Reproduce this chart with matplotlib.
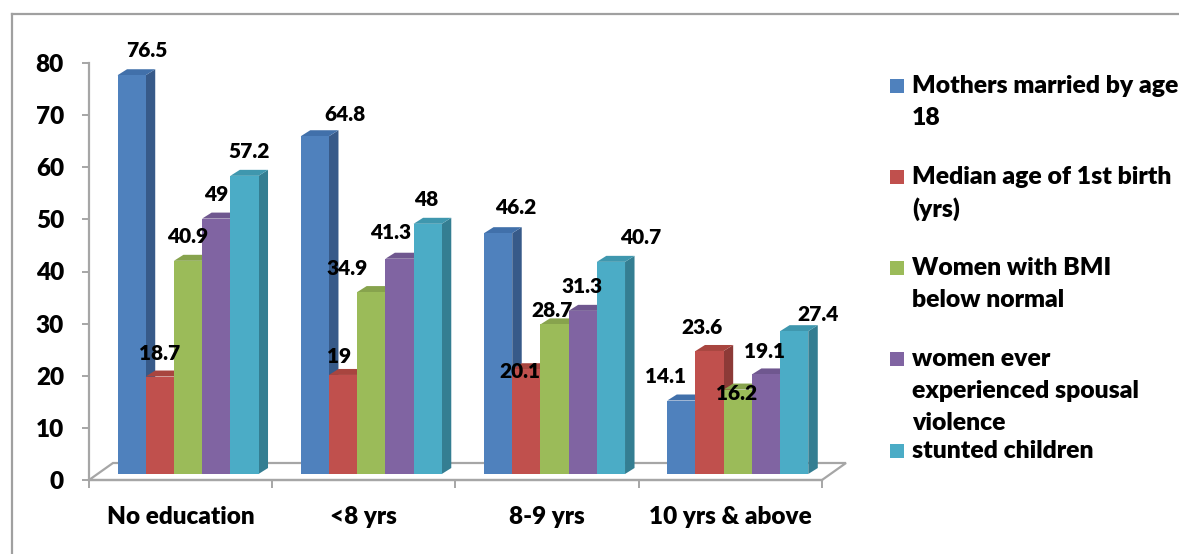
import numpy as np
import matplotlib
matplotlib.use("Agg")
import matplotlib.pyplot as plt
from matplotlib.patches import Polygon, Rectangle
from matplotlib.transforms import ScaledTranslation
from matplotlib.lines import Line2D

# ---------------- data ----------------
categories = ["No education", "<8 yrs", "8-9 yrs", "10 yrs & above"]
series_names = [
    "Mothers married by age\n18",
    "Median age of 1st birth\n(yrs)",
    "Women with BMI\nbelow normal",
    "women ever\nexperienced spousal\nviolence",
    "stunted children",
]
mothers_married_by_18 = [76.5, 64.8, 46.2, 14.1]
median_age_first_birth = [18.7, 19, 20.1, 23.6]
women_bmi_below_normal = [40.9, 34.9, 28.7, 16.2]
women_spousal_violence = [49, 41.3, 31.3, 19.1]
stunted_children = [57.2, 48, 40.7, 27.4]
y_ticks = [0, 10, 20, 30, 40, 50, 60, 70, 80]

series_values = [mothers_married_by_18, median_age_first_birth,
                 women_bmi_below_normal, women_spousal_violence, stunted_children]

# ---------------- styles ----------------
front_colors = ["#4F81BD", "#C0504D", "#9BBB59", "#8064A2", "#4BACC6"]
side_colors = ["#375A89", "#8C3A37", "#718A40", "#5D4977", "#347E92"]
top_colors = ["#4170AA", "#A8453F", "#87A34D", "#6F578F", "#3F97AE"]
# label offsets (pixels, x right / y down) relative to bar front-top centre
label_offsets = [
    [(15, -25), (30, -22), (18, -26), (-16, -24)],
    [(0, -23), (-4, -18), (-6, 2), (-8, -23)],
    [(0, -24), (-24, -24), (-2, -14), (-1, 4)],
    [(0, -24), (-9, -26), (-1, -24), (-1, -23)],
    [(5, -24), (-1, -24), (30, -24), (24, -17)],
]
FONT = ["Lato", "DejaVu Sans"]
WEIGHT = "heavy"
GREY = "#A6A6A6"
TICK_FS = 17.5
LEG_FS = 17.8
LBL_FS = 15

W, H = 1179, 554
DPI = 100
fig = plt.figure(figsize=(W / DPI, H / DPI), dpi=DPI)
plt.rcParams["font.family"] = FONT

ax_left, ax_right, ax_zero, ax_top = 89, 822, 480, 63
ax = fig.add_axes([ax_left / W, (H - ax_zero) / H,
                   (ax_right - ax_left) / W, (ax_zero - ax_top) / H])
ncat = len(categories)
ax.set_xlim(0, ncat)
ax.set_ylim(0, 80)
ax.set_facecolor("none")

px_x = (ax_right - ax_left) / ncat          # pixels per x unit
px_y = (ax_zero - ax_top) / 80.0            # pixels per y unit

# bars sit slightly into the floor depth
front_off = ScaledTranslation(7.4 / DPI, 6.0 / DPI, fig.dpi_scale_trans)
tr = ax.transData + front_off

bw = 28.2 / px_x
ddx = 9.5 / px_x
ddy = 6.0 / px_y
nser = len(series_values)
x_base = np.arange(ncat) + 0.5

# floor outline
fdx = 24 / px_x
fdy = 17 / px_y
floor = Polygon([(0, 0), (ncat, 0), (ncat + fdx, fdy), (fdx, fdy)], closed=True,
                facecolor="white", edgecolor=GREY, lw=1.6, zorder=1,
                transform=ax.transData, clip_on=False)
ax.add_patch(floor)

for s, vals in enumerate(series_values):
    xs = x_base + (s - (nser - 1) / 2) * bw
    z = 3 + s * 3
    ax.bar(xs, vals, width=bw, color=front_colors[s], transform=tr,
           zorder=z + 2, clip_on=False, linewidth=0)
    for g, (x, v) in enumerate(zip(xs, vals)):
        xr = x + bw / 2
        xl = x - bw / 2
        side = Polygon([(xr, 0), (xr + ddx, ddy), (xr + ddx, v + ddy), (xr, v)],
                       closed=True, facecolor=side_colors[s], edgecolor="none",
                       transform=tr, zorder=z, clip_on=False)
        top = Polygon([(xl, v), (xr, v), (xr + ddx, v + ddy), (xl + ddx, v + ddy)],
                      closed=True, facecolor=top_colors[s], edgecolor="none",
                      transform=tr, zorder=z + 1, clip_on=False)
        ax.add_patch(side)
        ax.add_patch(top)
        ox, oy = label_offsets[s][g]
        ax.annotate(f"{v:g}", xy=(x, v), xycoords=tr, xytext=(ox, -oy),
                    textcoords="offset pixels", ha="center", va="center",
                    fontsize=LBL_FS, fontweight=WEIGHT, color="black",
                    family=FONT, zorder=30, annotation_clip=False)

# axes styling
for sp in ["top", "right"]:
    ax.spines[sp].set_visible(False)
for sp in ["left", "bottom"]:
    ax.spines[sp].set_color(GREY)
    ax.spines[sp].set_linewidth(1.6)
    ax.spines[sp].set_zorder(2)

ax.set_yticks(y_ticks)
ax.set_yticklabels([str(t) for t in y_ticks], fontsize=TICK_FS, fontweight=WEIGHT, family=FONT)
ax.tick_params(axis="y", direction="out", length=5, width=1.4, color=GREY, pad=13)

ax.set_xticks(np.arange(ncat + 1))
ax.set_xticklabels([])
ax.tick_params(axis="x", which="major", direction="out", length=6, width=1.4, color=GREY)
ax.set_xticks(x_base, minor=True)
ax.set_xticklabels(categories, minor=True, fontsize=TICK_FS, fontweight=WEIGHT, family=FONT)
ax.tick_params(axis="x", which="minor", length=0, pad=19)

# legend (manual, Excel-like layout)
leg_x_sq, leg_x_txt = 890, 912
leg_first_y = [86, 177, 268, 359, 451]
line_h = 32
for s, name in enumerate(series_names):
    yc = leg_first_y[s]
    fig.add_artist(Rectangle((leg_x_sq / W, 1 - (yc + 7) / H), 14 / W, 14 / H,
                             transform=fig.transFigure, facecolor=front_colors[s],
                             edgecolor="none"))
    for k, line in enumerate(name.split("\n")):
        fig.text(leg_x_txt / W, 1 - (yc + k * line_h) / H, line, ha="left", va="center",
                 fontsize=LEG_FS, fontweight=WEIGHT, family=FONT, color="black")

# outer chart frame
fig.add_artist(Line2D([12 / W, 1.0], [1 - 14 / H, 1 - 14 / H], transform=fig.transFigure,
                      color="#A0A0A0", lw=1.6))
fig.add_artist(Line2D([12 / W, 12 / W], [1 - 14 / H, 0], transform=fig.transFigure,
                      color="#A0A0A0", lw=1.6))

fig.savefig("out.png", dpi=DPI)
